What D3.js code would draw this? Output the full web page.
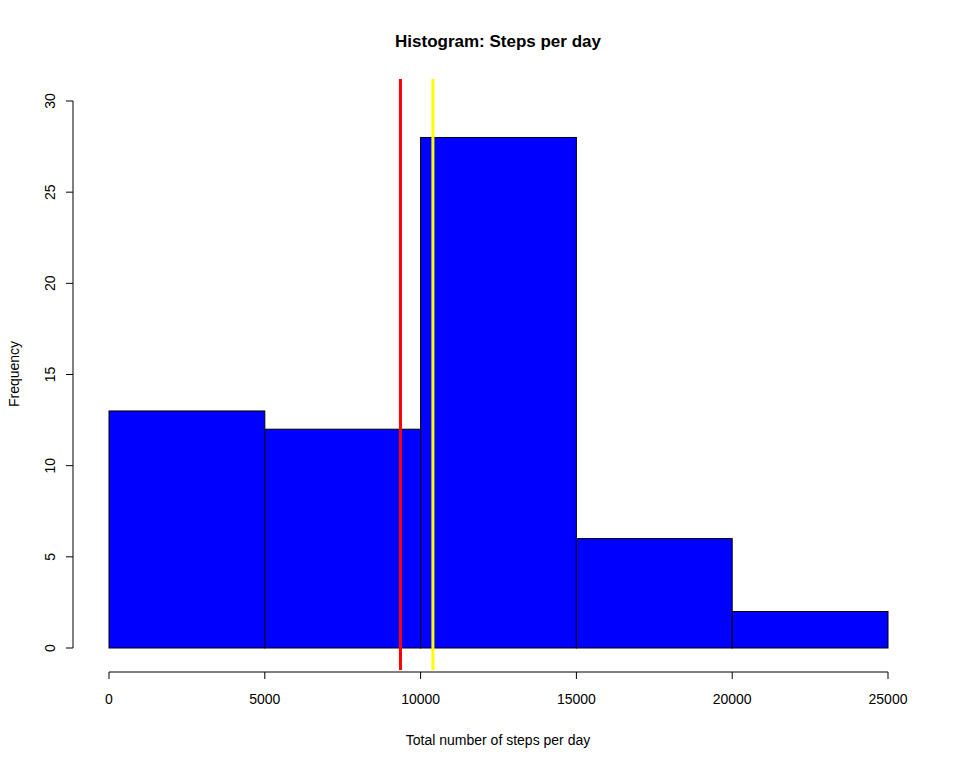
<!DOCTYPE html>
<html><head><meta charset="utf-8">
<script src="https://cdn.jsdelivr.net/npm/d3@7"></script>
<style>body{margin:0;background:#fff}text{font-family:"Liberation Sans",Arial,sans-serif}</style>
</head><body><svg id="chart" width="960" height="768"></svg>
<script>
const binStarts = [0, 5000, 10000, 15000, 20000];
const binWidth = 5000;
const counts = [13, 12, 28, 6, 2];
const xTicks = [0, 5000, 10000, 15000, 20000, 25000];
const yTicks = [0, 5, 10, 15, 20, 25, 30];
const meanSteps = 9354;
const medianSteps = 10395;

const svg = d3.select("#chart");
const x = d3.scaleLinear().domain([0, 25000]).range([109, 888]);
const y = d3.scaleLinear().domain([0, 30]).range([648, 101]);
const plotTop = y(31.2), plotBottom = y(-1.2);

svg.selectAll("rect.bar").data(counts).join("rect")
  .attr("x", (d, i) => x(binStarts[i]))
  .attr("width", (d, i) => x(binStarts[i] + binWidth) - x(binStarts[i]))
  .attr("y", d => y(d)).attr("height", d => y(0) - y(d))
  .attr("fill", "#0000ff").attr("stroke", "#000").attr("stroke-width", 1);

// x axis
const xa = svg.append("g");
xa.append("line").attr("x1", x(0)).attr("x2", x(25000)).attr("y1", 672).attr("y2", 672).attr("stroke", "#000");
xTicks.forEach(t => {
  xa.append("line").attr("x1", x(t)).attr("x2", x(t)).attr("y1", 672).attr("y2", 679).attr("stroke", "#000");
  xa.append("text").attr("x", x(t)).attr("y", 704).attr("text-anchor", "middle").attr("font-size", 14).text(t);
});
// y axis
const ya = svg.append("g");
ya.append("line").attr("x1", 73).attr("x2", 73).attr("y1", y(0)).attr("y2", y(30)).attr("stroke", "#000");
yTicks.forEach(t => {
  ya.append("line").attr("x1", 66).attr("x2", 73).attr("y1", y(t)).attr("y2", y(t)).attr("stroke", "#000");
  ya.append("text").attr("transform", `translate(55,${y(t)}) rotate(-90)`).attr("text-anchor", "middle").attr("font-size", 14).text(t);
});

// mean / median lines
svg.append("line").attr("x1", x(meanSteps)).attr("x2", x(meanSteps)).attr("y1", plotTop).attr("y2", plotBottom).attr("stroke", "#ff0000").attr("stroke-width", 3);
svg.append("line").attr("x1", x(medianSteps)).attr("x2", x(medianSteps)).attr("y1", plotTop).attr("y2", plotBottom).attr("stroke", "#ffff00").attr("stroke-width", 3);

svg.append("text").attr("x", 498).attr("y", 47).attr("text-anchor", "middle").attr("font-size", 17).attr("font-weight", "bold").text("Histogram: Steps per day");
svg.append("text").attr("x", 498).attr("y", 745).attr("text-anchor", "middle").attr("font-size", 14).text("Total number of steps per day");
svg.append("text").attr("transform", "translate(19,374) rotate(-90)").attr("text-anchor", "middle").attr("font-size", 14).text("Frequency");
</script></body></html>
